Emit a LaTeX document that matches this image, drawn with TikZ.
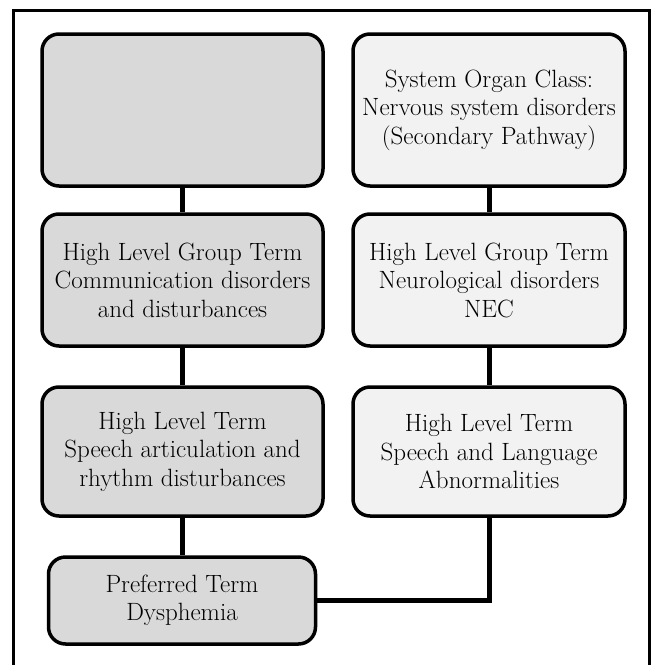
\documentclass[tikz,border=0pt]{standalone}
\usepackage{fontspec}
\usepackage{tikz}

\definecolor{darkfill}{HTML}{D9D9D9}
\definecolor{lightfill}{HTML}{F2F2F2}

\begin{document}
\begin{tikzpicture}[x=1pt, y=-1pt]
\tikzstyle{term}=[draw, line width=3.5pt, rounded corners=17pt, align=center, inner sep=0pt, font=\fontsize{25}{28.5}\selectfont]
\tikzstyle{left}=[term, fill=darkfill, minimum width=281pt]
\tikzstyle{right}=[term, fill=lightfill, minimum width=272pt]
\tikzstyle{link}=[line width=5pt]

\useasboundingbox (0,0) rectangle (652,665);
\draw[line width=3pt] (13,10) rectangle (649,680);

% primary pathway
\node[left, minimum height=152pt] (soc) at (182.5,110) {};
\node[left, minimum height=132pt] (hlgt) at (182.5,280) {High Level Group Term\\Communication disorders\\and disturbances};
\node[left, minimum height=129pt] (hlt) at (182.5,451.5) {High Level Term\\Speech articulation and\\rhythm disturbances};
\node[left, minimum width=267pt, minimum height=87pt] (pt) at (182,600.5) {Preferred Term\\Dysphemia};

% secondary pathway
\node[right, minimum height=152pt] (ssoc) at (489,110) {System Organ Class:\\Nervous system disorders\\(Secondary Pathway)};
\node[right, minimum height=132pt] (shlgt) at (489,280) {High Level Group Term\\Neurological disorders\\NEC};
\node[right, minimum height=129pt] (shlt) at (489,451.5) {High Level Term\\Speech and Language\\Abnormalities};

\draw[link] (soc) -- (hlgt);
\draw[link] (hlgt) -- (hlt);
\draw[link] (hlt.south) -- (hlt.south |- pt.north);
\draw[link] (ssoc) -- (shlgt);
\draw[link] (shlgt) -- (shlt);
\draw[link] (shlt) |- (pt);

\end{tikzpicture}
\end{document}
